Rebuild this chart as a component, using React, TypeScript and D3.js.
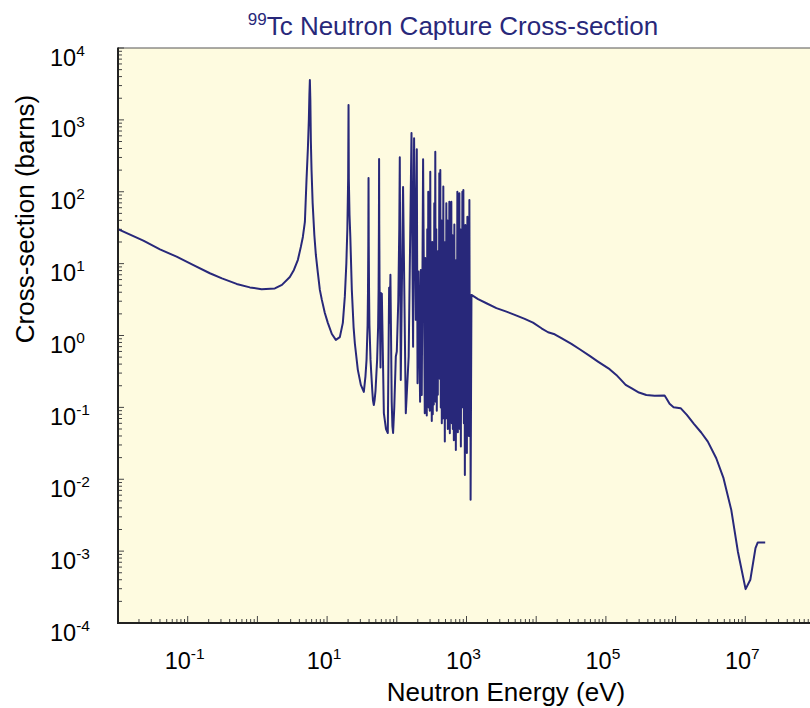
import React from 'react';
import * as d3 from 'd3';

// Neutron energy (eV) and capture cross-section (barns)
const energyEV: number[] = [
  // thermal / 1-v region and first resonances
  0.01, 0.0231, 0.04, 0.0693, 0.119, 0.208, 0.31, 0.504, 0.78, 1.15, 1.78, 2.25, 2.92, 3.34, 3.81, 4.2, 4.49, 4.8,
  5.07, 5.3, 5.47, 5.57, 5.66, 5.75, 5.85, 5.98, 6.2, 6.56, 6.9, 7.37, 7.87, 8.41, 9.28, 10.25, 11.7, 13.35, 15.23,
  16.82, 17.97, 18.88, 19.52, 20.04, 20.3, 20.5, 20.98, 21.54, 22.63, 24, 25, 27.6, 30.48, 33.65, 35.5, 36.8, 38.1,
  38.6, 39.0, 39.3, 39.6, 40, 40.5, 42, 43, 44.5, 45.5, 46.8, 48, 49.5, 51, 52.2, 53.9, 54.8, 55.4, 55.7, 56.0, 56.6,
  57.5, 58.4, 59, 60, 61, 65.2, 70, 74.3, 77.6, 79, 81, 84.5, 86.5, 88.5, 92, 96.8, 100, 105, 108.5, 110.4, 112, 114,
  123, 134.6, 148,
  // resolved resonance region
  162.5, 171.3, 177, 187.3, 193.6, 198.4, 205, 215.9, 221, 228, 238.4,
  251.9, 256.1, 260.4, 264.7, 269.1, 273.6, 278.2, 282.8, 287.6, 292.4, 297.2, 302.2, 307.3, 312.4, 317.6, 322.9,
  328.3, 333.8, 339.4, 345.1, 350.8, 356.7, 362.6, 368.7, 374.8, 381.1, 387.5, 393.9, 400.5, 407.2, 414.0, 420.9,
  427.9, 435.1, 442.3, 449.7, 457.2, 464.9, 472.6, 480.5, 488.6, 496.7, 505.0, 513.5, 522.1, 530.8, 539.7, 548.7,
  557.8, 567.2, 576.6, 586.3, 596.1, 606.0, 616.1, 626.4, 636.9, 647.5, 658.3, 669.3, 680.5, 691.9, 703.4, 715.2,
  727.1, 739.3, 751.6, 764.2, 776.9, 789.9, 803.1, 816.5, 830.1, 844.0, 858.1, 872.4, 887.0, 901.8, 916.8, 932.1,
  947.7, 963.5, 979.6, 996.0, 1012.6, 1029.5, 1046.7, 1064.2, 1082.0, 1100.1, 1118.5, 1137.2, 1145, 1178,
  // unresolved / fast region
  1465, 1932, 2687, 3740, 4920, 6840, 9000, 1.19e4, 1.48e4, 1.84e4, 2.3e4, 3.2e4, 4.21e4, 5.85e4, 7.69e4, 1.13e5,
  1.41e5, 1.61e5, 1.92e5, 2.32e5, 2.98e5, 3.8e5, 5.0e5, 6.95e5, 7.36e5, 8.2e5, 9.35e5, 1.18e6, 1.45e6, 1.83e6,
  2.33e6, 2.9e6, 3.83e6, 4.87e6, 6.29e6, 7.82e6, 1.01e7, 1.18e7, 1.4e7, 1.51e7, 1.93e7,
];

const sigmaBarns: number[] = [
  30.1, 20.9, 15.8, 12.5, 9.6, 7.35, 6.23, 5.22, 4.67, 4.4, 4.52, 5.06, 6.53, 8.17, 11.3, 17.1, 23.5, 38,
  150, 400, 1000, 2200, 3590, 1900, 500, 201, 70, 25, 13.2, 7.42, 4.31, 3.13, 2.06, 1.5, 1.05, 0.87, 0.95,
  1.5, 3.5, 10, 30, 150, 1610, 150, 47.6, 23.5, 4.31, 1.3, 0.78, 0.333, 0.2055, 0.164, 0.27, 0.458, 1.4,
  4, 18, 155, 18, 4, 1.4, 0.458, 0.3, 0.17, 0.125, 0.108, 0.125, 0.17, 0.3, 0.458, 1.3, 4.5, 36, 286, 36, 5,
  1.3, 0.36, 3.9, 0.9, 3.8, 0.083, 0.05, 0.044, 4.6, 1.5, 7, 0.12, 0.055, 0.044, 0.1, 0.51, 0.6, 3, 30, 302, 10, 0.241,
  116, 0.083, 0.51,
  657, 0.7, 555, 1.65, 390, 0.217, 7.74, 0.12, 8.17, 0.149, 283,
  0.083, 12, 0.12, 5.3, 0.077, 30, 0.15, 100, 0.1, 25, 0.09, 190, 0.092, 3.13, 0.0645, 20,
  0.08, 8.17, 0.11, 69.2, 0.3, 361, 0.12, 30, 0.09, 3.87, 0.15, 15, 0.4, 181, 0.25, 201,
  0.1, 40, 0.06, 20, 0.07, 118, 0.1, 13.2, 0.0334, 20, 0.07, 69.2, 0.09, 40, 0.05, 5,
  0.08, 72.8, 0.0438, 30, 0.12, 72.8, 0.06, 25, 0.05, 2.3, 0.035, 35, 0.07, 8, 0.0256, 11.2,
  0.15, 100, 0.045, 40, 0.08, 95, 0.05, 30, 0.0285, 4.3, 0.1, 100, 0.6, 106, 0.06, 15,
  0.0115, 34.5, 0.05, 20, 0.0231, 45, 0.4, 25, 0.04, 76.9, 0.08, 3.13, 0.00517, 3.67,
  3.2, 2.81, 2.4, 2.15, 1.94, 1.7, 1.51, 1.26, 1.11, 1.04, 0.917, 0.764, 0.644, 0.52, 0.434, 0.34,
  0.283, 0.247, 0.206, 0.185, 0.161, 0.149, 0.145, 0.146, 0.134, 0.112, 0.1007, 0.0975, 0.0787, 0.059,
  0.0447, 0.0334, 0.0196, 0.01035, 0.00375, 0.00099, 0.000296, 0.000399, 0.0011, 0.00132, 0.00132,
];

const xLabelExponents = [-1, 1, 3, 5, 7];
const yLabelExponents = [4, 3, 2, 1, 0, -1, -2, -3, -4];

const titleMain = 'Tc Neutron Capture Cross-section';
const titleSup = '99';
const xTitle = 'Neutron Energy (eV)';
const yTitle = 'Cross-section (barns)';

export default function App() {
  const W = 810, H = 708;
  const left = 118, right = 815, top = 48, bottom = 623;
  const x = d3.scaleLog().domain([1e-2, 1e8]).range([left, right]);
  const y = d3.scaleLog().domain([1e-4, 1e4]).range([bottom, top]);
  const n = Math.min(energyEV.length, sigmaBarns.length);
  const pts: [number, number][] = energyEV.slice(0, n).map((e, i) => [e, sigmaBarns[i]]);
  const line = d3.line<[number, number]>().x(d => x(d[0])).y(d => y(d[1]));

  const font = "'Liberation Sans', Arial, Helvetica, sans-serif";
  const navy = '#28287A';

  const yTicks: { v: number; major: boolean }[] = [];
  for (let d = -4; d <= 4; d++) {
    yTicks.push({ v: Math.pow(10, d), major: true });
    if (d < 4) for (let k = 2; k <= 9; k++) yTicks.push({ v: k * Math.pow(10, d), major: false });
  }
  const xTicks: { v: number; major: boolean }[] = [];
  for (let d = -2; d <= 8; d++) {
    xTicks.push({ v: Math.pow(10, d), major: true });
    if (d < 8) for (let k = 2; k <= 9; k++) xTicks.push({ v: k * Math.pow(10, d), major: false });
  }

  return (
    <svg width={W} height={H} style={{ position: 'absolute', left: 0, top: 0, background: '#fff' }} fontFamily={font}>
      <defs>
        <clipPath id="plotclip">
          <rect x={left} y={top} width={right - left} height={bottom - top} />
        </clipPath>
      </defs>
      <rect x={left} y={top} width={right - left} height={bottom - top} fill="#FEFBE0" />
      <line x1={left} x2={right} y1={top} y2={top} stroke="#555" strokeWidth={1} />
      {yTicks.map((t, i) => (
        <line key={'yt' + i} x1={left} x2={left + (t.major ? 6 : 4)} y1={y(t.v)} y2={y(t.v)} stroke="#444" strokeWidth={1} />
      ))}
      {xTicks.map((t, i) => (
        <line key={'xt' + i} x1={x(t.v)} x2={x(t.v)} y1={bottom} y2={bottom - (t.major ? 7 : 4)} stroke="#444" strokeWidth={1} />
      ))}
      <path d={line(pts) || ''} fill="none" stroke={navy} strokeWidth={2} strokeLinejoin="round" clipPath="url(#plotclip)" />
      <line x1={left} x2={left} y1={top - 0.5} y2={bottom + 1} stroke="#222" strokeWidth={2} />
      <line x1={left - 1} x2={right} y1={bottom} y2={bottom} stroke="#222" strokeWidth={2} />

      {yLabelExponents.map(e => (
        <text key={'yl' + e} x={50} y={y(Math.pow(10, e)) + 17.5} fontSize={23.5} fill="#000">
          <tspan>10</tspan>
          <tspan dy={-10} fontSize={15.5}>{String(e)}</tspan>
        </text>
      ))}
      {xLabelExponents.map(e => (
        <text key={'xl' + e} x={x(Math.pow(10, e)) - 3} y={669} fontSize={23.5} fill="#000" textAnchor="middle">
          <tspan>10</tspan>
          <tspan dy={-10} fontSize={15.5}>{String(e)}</tspan>
        </text>
      ))}

      <text x={506} y={701} fontSize={26} textAnchor="middle" fill="#000">{xTitle}</text>
      <text transform={`translate(34,219) rotate(-90)`} fontSize={26} textAnchor="middle" fill="#000">{yTitle}</text>

      <text x={453} y={35} fontSize={26} textAnchor="middle" fill={navy}>
        <tspan fontSize={17} dy={-10}>{titleSup}</tspan>
        <tspan dy={10}>{titleMain}</tspan>
      </text>
    </svg>
  );
}
